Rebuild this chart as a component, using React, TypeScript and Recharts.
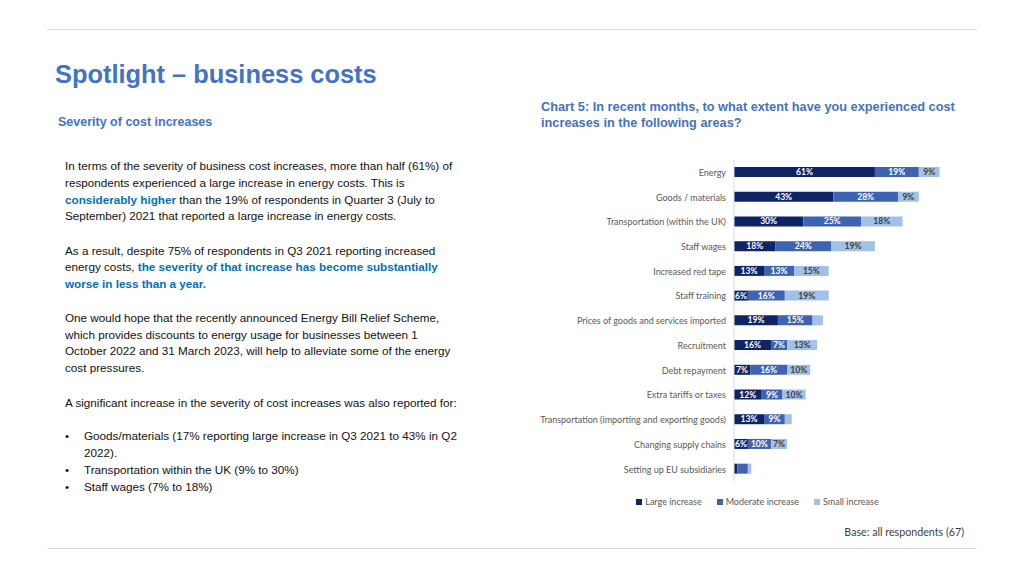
import React from "react";
import {
  BarChart,
  Bar,
  XAxis,
  YAxis,
  Legend,
  LabelList,
} from "recharts";

const categories = [
  "Energy",
  "Goods / materials",
  "Transportation (within the UK)",
  "Staff wages",
  "Increased red tape",
  "Staff training",
  "Prices of goods and services imported",
  "Recruitment",
  "Debt repayment",
  "Extra tariffs or taxes",
  "Transportation (importing and exporting goods)",
  "Changing supply chains",
  "Setting up EU subsidiaries",
];
const largeIncrease = [61, 43, 30, 18, 13, 6, 19, 16, 7, 12, 13, 6, 1.5];
const moderateIncrease = [19, 28, 25, 24, 13, 16, 15, 7, 16, 9, 9, 10, 4.5];
const smallIncrease = [9, 9, 18, 19, 15, 19, 4.5, 13, 10, 10, 3, 7, 1.5];

const seriesNames = ["Large increase", "Moderate increase", "Small increase"];

const data = categories.map((name, i) => ({
  name,
  large: largeIncrease[i],
  moderate: moderateIncrease[i],
  small: smallIncrease[i],
}));

const COLORS = ["#0e2465", "#3f63b3", "#a2c1e6"];
const BLUE = "#4472c4";
const HIGHLIGHT = "#0070c0";
const ARIAL = "'Liberation Sans', Arial, sans-serif";
const CAL = "Lato, 'Open Sans', sans-serif";

const pct = (v: any) => (Number(v) >= 6 ? `${v}%` : "");

const CategoryTick = (props: any) => {
  const { x, y, payload } = props;
  return (
    <text
      x={x}
      y={y}
      textAnchor="end"
      dominantBaseline="central"
      fill="#595959"
      fontSize={9}
      fontFamily={CAL}
    >
      {payload.value}
    </text>
  );
};

const LegendBox = () => (
  <div
    style={{
      display: "flex",
      justifyContent: "center",
      gap: 15,
      fontFamily: CAL,
      fontSize: 9,
      color: "#595959",
    }}
  >
    {seriesNames.map((n, i) => (
      <div key={n} style={{ display: "flex", alignItems: "center" }}>
        <span
          style={{
            display: "inline-block",
            width: 6,
            height: 6,
            background: COLORS[i],
            marginRight: 3,
          }}
        />
        {n}
      </div>
    ))}
  </div>
);

const line = (top: number) => ({
  position: "absolute" as const,
  left: 47,
  width: 930,
  top,
  height: 1,
  background: "#d9d9d9",
});

const body = (top: number, left = 65) => ({
  position: "absolute" as const,
  left,
  top,
  fontFamily: ARIAL,
  fontSize: 11.7,
  lineHeight: "16.7px",
  color: "#111",
  whiteSpace: "nowrap" as const,
});

const hl = { color: HIGHLIGHT, fontWeight: 700 };

export default function App() {
  return (
    <div
      style={{
        position: "absolute",
        left: 0,
        top: 0,
        width: 1024,
        height: 576,
        background: "#fff",
        overflow: "hidden",
      }}
    >
      <div style={line(29)} />
      <div style={line(548)} />

      <div
        style={{
          position: "absolute",
          left: 55,
          top: 59,
          fontFamily: ARIAL,
          fontSize: 25.4,
          lineHeight: "30px",
          fontWeight: 700,
          color: BLUE,
          whiteSpace: "nowrap",
        }}
      >
        Spotlight – business costs
      </div>

      <div
        style={{
          position: "absolute",
          left: 58,
          top: 114,
          fontFamily: ARIAL,
          fontSize: 12.5,
          lineHeight: "16px",
          fontWeight: 700,
          color: BLUE,
        }}
      >
        Severity of cost increases
      </div>

      <div style={body(158.3)}>
        In terms of the severity of business cost increases, more than half (61%) of
        <br />
        respondents experienced a large increase in energy costs. This is
        <br />
        <span style={hl}>considerably higher</span> than the 19% of respondents in Quarter 3 (July to
        <br />
        September) 2021 that reported a large increase in energy costs.
      </div>

      <div style={body(242.6)}>
        As a result, despite 75% of respondents in Q3 2021 reporting increased
        <br />
        energy costs, <span style={hl}>the severity of that increase has become substantially</span>
        <br />
        <span style={hl}>worse in less than a year.</span>
      </div>

      <div style={body(310)}>
        One would hope that the recently announced Energy Bill Relief Scheme,
        <br />
        which provides discounts to energy usage for businesses between 1
        <br />
        October 2022 and 31 March 2023, will help to alleviate some of the energy
        <br />
        cost pressures.
      </div>

      <div style={body(395)}>
        A significant increase in the severity of cost increases was also reported for:
      </div>

      <div style={{ ...body(428.3), lineHeight: "16.9px" }}>
        <span style={{ position: "absolute", left: 0 }}>•</span>
        <div style={{ marginLeft: 19 }}>
          Goods/materials (17% reporting large increase in Q3 2021 to 43% in Q2
          <br />
          2022).
        </div>
        <span style={{ position: "absolute", left: 0, top: 33.8 }}>•</span>
        <div style={{ marginLeft: 19 }}>Transportation within the UK (9% to 30%)</div>
        <span style={{ position: "absolute", left: 0, top: 50.7 }}>•</span>
        <div style={{ marginLeft: 19 }}>Staff wages (7% to 18%)</div>
      </div>

      <div
        style={{
          position: "absolute",
          left: 541,
          top: 98.5,
          fontFamily: ARIAL,
          fontSize: 12.75,
          lineHeight: "16.6px",
          fontWeight: 700,
          color: BLUE,
          whiteSpace: "nowrap",
        }}
      >
        Chart 5: In recent months, to what extent have you experienced cost
        <br />
        increases in the following areas?
      </div>

      <div style={{ position: "absolute", left: 530, top: 150 }}>
        <BarChart
          width={435}
          height={370}
          data={data}
          layout="vertical"
          margin={{ top: 10, right: 0, bottom: 38.6, left: 0 }}
          barSize={10}
        >
          <XAxis type="number" domain={[0, 100]} hide />
          <YAxis
            type="category"
            dataKey="name"
            width={204}
            axisLine={{ stroke: "#d9d9d9" }}
            tickLine={false}
            interval={0}
            tick={<CategoryTick />}
          />
          <Legend
            layout="horizontal"
            verticalAlign="middle"
            align="center"
            content={<LegendBox />}
            wrapperStyle={{ top: 346, left: 10, width: 435, height: 14 }}
          />
          {(["large", "moderate", "small"] as const).map((k, i) => (
            <Bar
              key={k}
              dataKey={k}
              name={seriesNames[i]}
              stackId="a"
              fill={COLORS[i]}
              isAnimationActive={false}
            >
              <LabelList
                dataKey={k}
                position="center"
                formatter={pct}
                fill={i === 2 ? "#404040" : "#ffffff"}
                fontSize={8.6}
                fontWeight={700}
                fontFamily={CAL}
              />
            </Bar>
          ))}
        </BarChart>
      </div>

      <div
        style={{
          position: "absolute",
          right: 1024 - 964,
          top: 524.5,
          fontFamily: CAL,
          fontSize: 10.7,
          lineHeight: "14px",
          color: "#404040",
          whiteSpace: "nowrap",
        }}
      >
        Base: all respondents (67)
      </div>
    </div>
  );
}
